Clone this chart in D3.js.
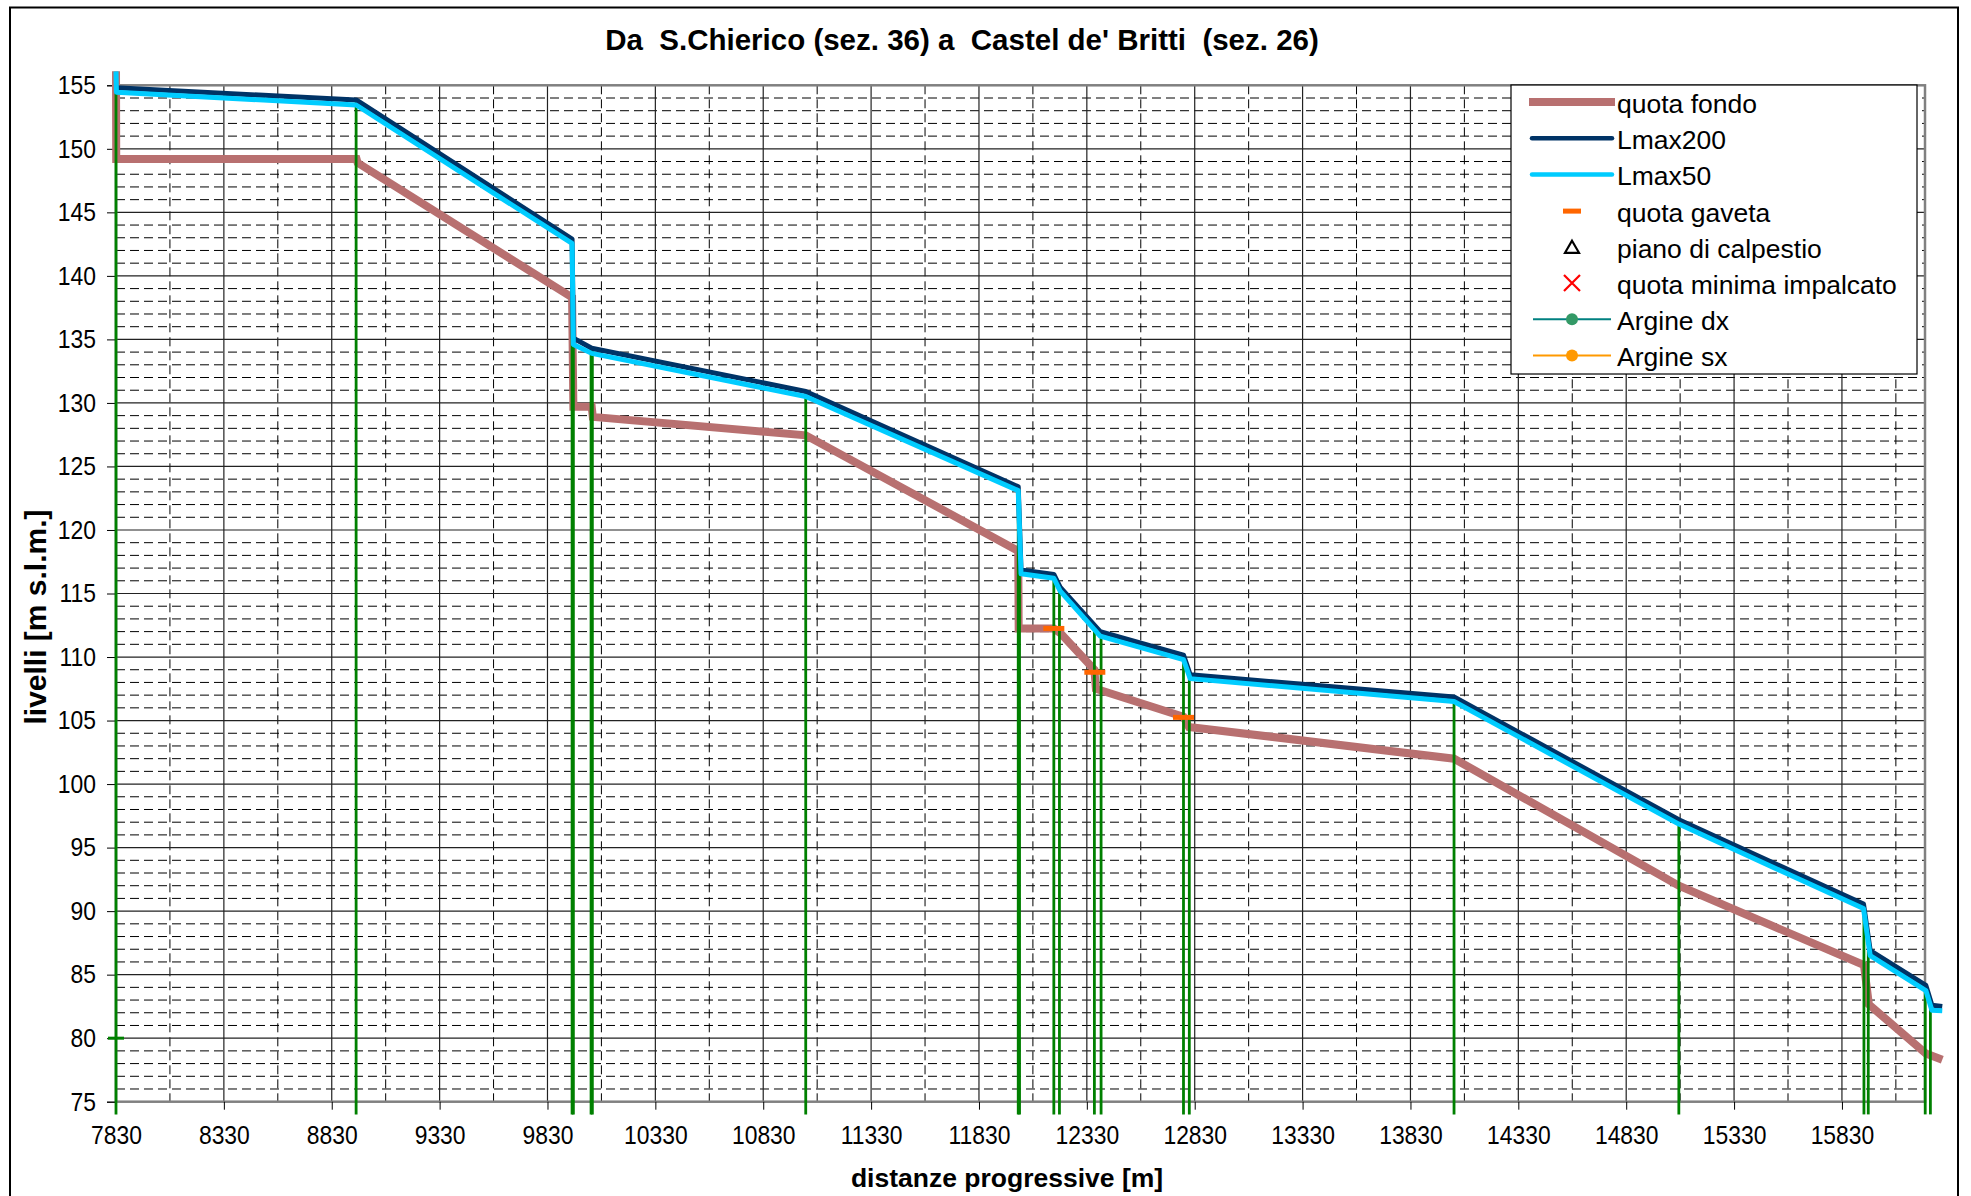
<!DOCTYPE html>
<html lang="it">
<head>
    <meta charset="UTF-8">
    <title>Profilo longitudinale</title>
    <script src="https://d3js.org/d3.v7.min.js"></script>
    <style>
        body { margin: 0; background: #fff; }
        text { font-family: "Liberation Sans", Arial, sans-serif; fill: #000; }
    </style>
</head>
<body>
<script>

    // tick labels
    var xTicks = [7830, 8330, 8830, 9330, 9830, 10330, 10830, 11330, 11830, 12330, 12830, 13330, 13830, 14330, 14830, 15330, 15830];
    var yTicks = [75, 80, 85, 90, 95, 100, 105, 110, 115, 120, 125, 130, 135, 140, 145, 150, 155];

    // quota fondo
    var distFondo  = [7830, 7831, 8945, 8950, 9944, 9950, 10035, 10040, 11027, 12012, 12014, 12177, 12206, 12365, 12372, 12778, 12803, 14032, 15074, 15932, 15955, 16219, 16295];
    var quotaFondo = [156.1, 149.2, 149.2, 148.9, 138.3, 129.7, 129.7, 128.9, 127.45, 118.35, 112.25, 112.25, 111.9, 109.0, 107.5, 105.3, 104.5, 102.0, 92.0, 85.75, 82.65, 78.8, 78.3];

    // Lmax200
    var distL200 = [7830, 8943, 9944, 9950, 10035, 11027, 12012, 12025, 12177, 12206, 12392, 12778, 12809, 14032, 15074, 15930, 15961, 16219, 16247, 16295];
    var lmax200  = [154.8, 153.85, 142.9, 135.1, 134.3, 130.9, 123.4, 116.85, 116.5, 115.5, 112.0, 110.15, 108.6, 106.85, 97.2, 90.55, 86.9, 84.15, 82.6, 82.5];

    // Lmax50
    var distL50 = [7830, 7832, 8943, 9944, 9950, 10035, 11027, 12012, 12025, 12177, 12206, 12392, 12778, 12809, 14032, 15074, 15930, 15961, 16219, 16247, 16295];
    var lmax50  = [156.1, 154.45, 153.45, 142.55, 134.6, 133.9, 130.5, 123.1, 116.55, 116.2, 115.2, 111.65, 109.8, 108.3, 106.5, 96.85, 90.2, 86.5, 83.75, 82.2, 82.15];

    // sezioni (linee verticali verdi)
    var sezioniDist = [7830, 8943, 9944, 9950, 10032, 10038, 11027, 12012, 12018, 12177, 12203, 12365, 12396, 12778, 12805, 14032, 15074, 15932, 15952, 16216, 16240];
    var sezioniTop  = [154.6, 153.85, 142.9, 135.0, 134.35, 134.3, 130.9, 123.4, 116.9, 116.5, 115.6, 112.4, 111.95, 110.15, 108.6, 106.85, 97.2, 90.55, 86.9, 84.15, 82.6];
    var sezioniBase = 74;

    // quota gaveta
    var gavetaDist  = [12177, 12367, 12778];
    var gavetaQuota = [112.25, 108.8, 105.25];

    // piccola tacca verde sull'asse
    var taccaDist = [7830];
    var taccaQuota = [80];

    var legendLabels = ["quota fondo", "Lmax200", "Lmax50", "quota gaveta", "piano di calpestio", "quota minima impalcato", "Argine dx", "Argine sx"];

    var W = 1971, H = 1196;
    var pLeft = 116, pRight = 1925, pTop = 85.3, pBottom = 1101.7;
    var narrow = 0.88;   // le etichette dell'originale sono un po' strette

    var x = d3.scaleLinear().domain([7830, 16215]).range([pLeft, pRight]);
    var y = d3.scaleLinear().domain([75, 155]).range([pBottom, pTop]);

    var svg = d3.select("body").append("svg")
        .attr("width", W)
        .attr("height", H);

    svg.append("rect")
        .attr("width", W).attr("height", H)
        .attr("fill", "#fff");

    // cornice esterna
    svg.append("rect")
        .attr("x", 10).attr("y", 7.5)
        .attr("width", 1948).attr("height", 1220)
        .attr("fill", "none")
        .attr("stroke", "#000")
        .attr("stroke-width", 2);

    var grid = svg.append("g");

    // griglia secondaria tratteggiata
    var yMinor = d3.range(76, 155, 1).filter(function (v) { return v % 5 != 0; });
    grid.selectAll(".ymin")
        .data(yMinor)
        .enter().append("line")
        .attr("x1", pLeft).attr("x2", pRight)
        .attr("y1", function (d) { return y(d); })
        .attr("y2", function (d) { return y(d); })
        .attr("stroke", "#000")
        .attr("stroke-width", 1)
        .attr("stroke-dasharray", "9,5");

    var xMinor = d3.range(8080, 16215, 500);
    grid.selectAll(".xmin")
        .data(xMinor)
        .enter().append("line")
        .attr("y1", pTop).attr("y2", pBottom)
        .attr("x1", function (d) { return x(d); })
        .attr("x2", function (d) { return x(d); })
        .attr("stroke", "#000")
        .attr("stroke-width", 1)
        .attr("stroke-dasharray", "9,5");

    // griglia principale
    grid.selectAll(".ymaj")
        .data(yTicks.slice(1, -1))
        .enter().append("line")
        .attr("x1", pLeft).attr("x2", pRight)
        .attr("y1", function (d) { return y(d); })
        .attr("y2", function (d) { return y(d); })
        .attr("stroke", "#222")
        .attr("stroke-width", 1.2);

    grid.selectAll(".xmaj")
        .data(xTicks.slice(1))
        .enter().append("line")
        .attr("y1", pTop).attr("y2", pBottom)
        .attr("x1", function (d) { return x(d); })
        .attr("x2", function (d) { return x(d); })
        .attr("stroke", "#222")
        .attr("stroke-width", 1.2);

    // bordo area grafico
    grid.append("rect")
        .attr("x", pLeft).attr("y", pTop)
        .attr("width", pRight - pLeft).attr("height", pBottom - pTop)
        .attr("fill", "none")
        .attr("stroke", "#808080")
        .attr("stroke-width", 2.5);

    // assi
    var xAxis = svg.append("g")
        .attr("transform", "translate(0," + pBottom + ")")
        .call(d3.axisBottom(x).tickValues(xTicks).tickSize(8).tickPadding(16).tickFormat(d3.format("d")));
    xAxis.select(".domain").remove();
    xAxis.selectAll("line").attr("stroke", "#000");
    xAxis.selectAll("text")
        .attr("font-size", "26px")
        .attr("font-family", "Liberation Sans, Arial, sans-serif")
        .attr("transform", "scale(" + narrow + ",1)");

    var yAxis = svg.append("g")
        .attr("transform", "translate(" + pLeft + ",0)")
        .call(d3.axisLeft(y).tickValues(yTicks).tickSize(9).tickPadding(11));
    yAxis.select(".domain").attr("stroke", "#000");
    yAxis.selectAll("line").attr("stroke", "#000");
    yAxis.selectAll("text")
        .attr("font-size", "26px")
        .attr("font-family", "Liberation Sans, Arial, sans-serif")
        .attr("x", -20 / narrow)
        .attr("transform", "scale(" + narrow + ",1)");

    function pts(xs, ys) {
        return xs.map(function (d, i) { return [d, ys[i]]; });
    }

    var line = d3.line()
        .x(function (d) { return x(d[0]); })
        .y(function (d) { return y(d[1]); });

    // quota fondo
    svg.append("path")
        .attr("d", line(pts(distFondo, quotaFondo)))
        .attr("fill", "none")
        .attr("stroke", "#b87070")
        .attr("stroke-width", 8)
        .attr("stroke-linejoin", "miter")
        .attr("stroke-linecap", "butt");

    // sezioni
    svg.selectAll(".sez")
        .data(pts(sezioniDist, sezioniTop))
        .enter().append("line")
        .attr("x1", function (d) { return x(d[0]); })
        .attr("x2", function (d) { return x(d[0]); })
        .attr("y1", y(sezioniBase))
        .attr("y2", function (d) { return y(d[1]); })
        .attr("stroke", "#008000")
        .attr("stroke-width", 2.8);

    svg.selectAll(".tacca")
        .data(pts(taccaDist, taccaQuota))
        .enter().append("line")
        .attr("x1", function (d) { return x(d[0]) - 8; })
        .attr("x2", function (d) { return x(d[0]) + 8; })
        .attr("y1", function (d) { return y(d[1]); })
        .attr("y2", function (d) { return y(d[1]); })
        .attr("stroke", "#008000")
        .attr("stroke-width", 3);

    // Lmax200
    svg.append("path")
        .attr("d", line(pts(distL200, lmax200)))
        .attr("fill", "none")
        .attr("stroke", "#003366")
        .attr("stroke-width", 5)
        .attr("stroke-linejoin", "round");

    // Lmax50
    svg.append("path")
        .attr("d", line(pts(distL50, lmax50)))
        .attr("fill", "none")
        .attr("stroke", "#00ccff")
        .attr("stroke-width", 5)
        .attr("stroke-linejoin", "round");

    // quota gaveta
    svg.selectAll(".gav")
        .data(pts(gavetaDist, gavetaQuota))
        .enter().append("rect")
        .attr("x", function (d) { return x(d[0]) - 10.5; })
        .attr("y", function (d) { return y(d[1]) - 2.5; })
        .attr("width", 21)
        .attr("height", 5)
        .attr("fill", "#ff6600");

    // titoli
    svg.append("text")
        .attr("x", 962).attr("y", 50)
        .attr("text-anchor", "middle")
        .attr("font-size", "29.5px")
        .attr("font-weight", "bold")
        .style("white-space", "pre")
        .text("Da  S.Chierico (sez. 36) a  Castel de' Britti  (sez. 26)");

    svg.append("text")
        .attr("transform", "translate(46,617) rotate(-90)")
        .attr("text-anchor", "middle")
        .attr("font-size", "30px")
        .attr("font-weight", "bold")
        .text("livelli [m s.l.m.]");

    svg.append("text")
        .attr("x", 1007).attr("y", 1187)
        .attr("text-anchor", "middle")
        .attr("font-size", "26.5px")
        .attr("font-weight", "bold")
        .text("distanze progressive [m]");

    // legenda
    var lg = svg.append("g");
    lg.append("rect")
        .attr("x", 1511).attr("y", 85)
        .attr("width", 406).attr("height", 289)
        .attr("fill", "#fff")
        .attr("stroke", "#000")
        .attr("stroke-width", 1.2);

    var rows = lg.selectAll(".row")
        .data(legendLabels)
        .enter().append("g")
        .attr("transform", function (d, i) { return "translate(0," + (102 + i * 36.2) + ")"; });

    rows.append("text")
        .attr("x", 1617)
        .attr("y", 11)
        .attr("font-size", "26.5px")
        .text(function (d) { return d; });

    var mx = 1572;
    rows.each(function (d, i) {
        var g = d3.select(this);
        if (i == 0) {
            g.append("rect").attr("x", 1529).attr("y", -4).attr("width", 86).attr("height", 8).attr("fill", "#b87070");
        } else if (i == 1 || i == 2) {
            g.append("line").attr("x1", 1532).attr("x2", 1612).attr("y1", 0).attr("y2", 0)
                .attr("stroke", i == 1 ? "#003366" : "#00ccff").attr("stroke-width", 4.5).attr("stroke-linecap", "round");
        } else if (i == 3) {
            g.append("rect").attr("x", mx - 9).attr("y", -2).attr("width", 18).attr("height", 5).attr("fill", "#ff6600");
        } else if (i == 4) {
            g.append("path").attr("d", "M" + mx + ",-6 L" + (mx + 7) + ",6 L" + (mx - 7) + ",6 Z")
                .attr("fill", "none").attr("stroke", "#000").attr("stroke-width", 2.2);
        } else if (i == 5) {
            g.append("path").attr("d", "M" + (mx - 8) + ",-8 L" + (mx + 8) + ",8 M" + (mx + 8) + ",-8 L" + (mx - 8) + ",8")
                .attr("stroke", "#ff0000").attr("stroke-width", 2.2);
        } else {
            var c = i == 6 ? "#008080" : "#ff9900";
            var m = i == 6 ? "#339966" : "#ff9900";
            g.append("line").attr("x1", 1533).attr("x2", 1611).attr("y1", 0).attr("y2", 0)
                .attr("stroke", c).attr("stroke-width", 2);
            g.append("circle").attr("cx", mx).attr("cy", 0).attr("r", 6).attr("fill", m);
        }
    });

</script>
</body>
</html>
